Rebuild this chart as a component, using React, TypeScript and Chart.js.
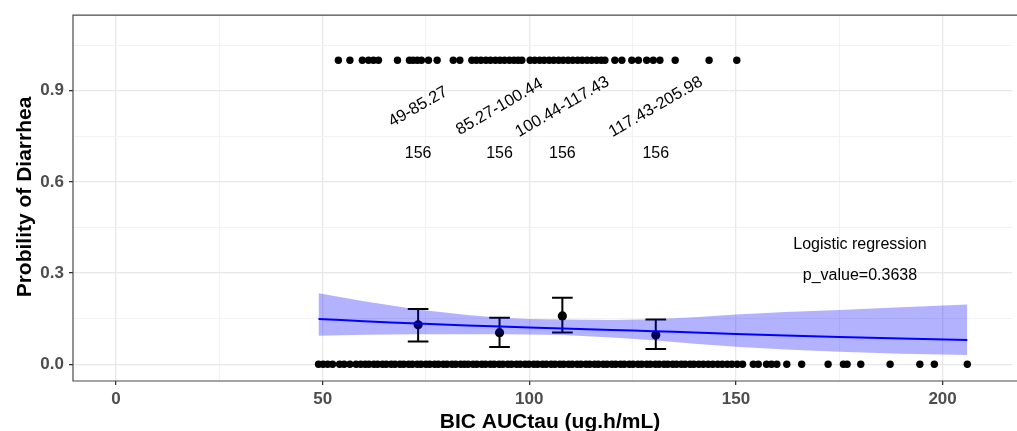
import React, { useEffect, useRef } from 'react';
import { Chart, registerables } from 'chart.js';
Chart.register(...registerables);

const FONT = "'Liberation Sans', Arial, sans-serif";

// axis ticks
const xTickValues = [0, 25, 50, 75, 100, 125, 150, 175, 200];
const xMajorTicks = [0, 50, 100, 150, 200];
const yTickValues = [0, 0.15, 0.3, 0.45, 0.6, 0.75, 0.9, 1.05];
const yMajorTicks = [0, 0.3, 0.6, 0.9];

// rug: AUC values of subjects with diarrhea (y = 1)
const rugTop = [53.8, 56.6, 59.6, 61.1, 62.3, 63.5, 68.1, 71.0, 71.9, 72.9, 73.9, 75.6, 77.7, 81.6, 83.2,
  86.1, 87.2, 88.3, 89.5, 90.6, 91.8, 92.9, 94.0, 95.2, 96.3, 97.3, 98.2,
  100.2, 101.3, 102.5, 103.6, 104.8, 105.9, 107.1, 108.2, 109.4, 110.5, 111.7, 112.8, 114.0, 115.1, 116.3, 117.4, 118.3,
  120.7, 122.4, 124.8, 126.4, 128.4, 130.0, 131.6, 135.3, 143.5, 150.2];

// rug: AUC values of subjects without diarrhea (y = 0)
const rugBottom = [49, 50.1, 51.2, 52.4, 54.1, 55.2, 56.6, 58.1, 59.2, 60.3, 61.2, 62.4, 63.3, 64.5, 65.4, 66.6,
  67.5, 68.7, 69.6, 70.8, 71.7, 72.9, 73.8, 75.0, 75.9, 77.1, 78.0, 79.2, 80.1, 81.3, 82.2, 83.4, 84.3, 85.2,
  86.4, 87.3, 88.5, 89.4, 90.6, 91.5, 92.7, 93.6, 94.8, 95.7, 96.9, 97.8, 99.0, 99.9, 101.1, 102.0, 103.2,
  104.1, 105.3, 106.2, 107.4, 108.3, 109.5, 110.4, 111.6, 112.5, 113.7, 114.6, 115.8, 116.7, 117.9, 118.8,
  120.0, 120.9, 122.1, 123.0, 124.2, 125.1, 126.3, 127.2, 128.4, 129.3, 130.5, 131.4, 132.6, 133.5, 134.7,
  135.6, 136.8, 137.7, 138.9, 139.8, 141.0, 142.1, 143.3, 144.4, 145.6, 146.7, 147.9, 149.0, 150.3, 151.6,
  154.2, 155.4, 157.4, 158.6, 159.9, 162.3, 165.9, 172.3, 176.0, 176.9, 180.2, 187.3, 194.5, 198.0, 205.98];

// quartile bins
const binLabels = ['49-85.27', '85.27-100.44', '100.44-117.43', '117.43-205.98'];
const binCounts = ['156', '156', '156', '156'];
const binX = [73.1, 92.8, 108.0, 130.6];
const binMean = [0.130, 0.104, 0.159, 0.096];
const binLow = [0.075, 0.057, 0.105, 0.050];
const binHigh = [0.182, 0.153, 0.219, 0.147];

// logistic fit with confidence band
const fitX = [49, 60, 73, 85, 93, 100, 108, 120, 130, 140, 150, 162, 175, 190, 205.98];
const fitY = [0.149, 0.142, 0.134, 0.128, 0.124, 0.121, 0.118, 0.113, 0.109, 0.105, 0.100, 0.095, 0.090, 0.085, 0.080];
const fitUpper = [0.234, 0.207, 0.180, 0.162, 0.153, 0.149, 0.147, 0.146, 0.148, 0.155, 0.164, 0.172, 0.179, 0.188, 0.197];
const fitLower = [0.094, 0.097, 0.099, 0.099, 0.099, 0.098, 0.096, 0.088, 0.079, 0.068, 0.058, 0.049, 0.041, 0.035, 0.031];

const annotX = 180;
const annotLines = [{ text: 'Logistic regression', y: 0.4 }, { text: 'p_value=0.3638', y: 0.3 }];
const binLabelY = 0.85;
const binCountY = 0.7;

const xTitle = 'BIC AUCtau (ug.h/mL)';
const yTitle = 'Probility of Diarrhea';

// panel placement (pixel anchors of the data origin and pixels per unit)
const X_ORIGIN_PX = 116;
const X_PX_PER_UNIT = 4.133;
const Y_ORIGIN_PX = 364.3;
const Y_PX_PER_UNIT = 304;

export default function App() {
  const ref = useRef<HTMLCanvasElement | null>(null);

  useEffect(() => {
    const canvas = ref.current;
    if (!canvas) return;

    const overlay = {
      id: 'overlay',
      afterLayout(chart: any) {
        const ca = chart.chartArea;
        const xs = chart.scales.x;
        const ys = chart.scales.y;
        xs.min = (ca.left - X_ORIGIN_PX) / X_PX_PER_UNIT;
        xs.max = (ca.right - X_ORIGIN_PX) / X_PX_PER_UNIT;
        xs.configure();
        ys.min = (Y_ORIGIN_PX - ca.bottom) / Y_PX_PER_UNIT;
        ys.max = (Y_ORIGIN_PX - ca.top) / Y_PX_PER_UNIT;
        ys.configure();
      },
      beforeDatasetsDraw(chart: any) {
        const { ctx } = chart;
        const xs = chart.scales.x;
        const ys = chart.scales.y;
        ctx.save();
        ctx.strokeStyle = '#000';
        ctx.lineWidth = 2;
        binX.forEach((bx, i) => {
          const px = xs.getPixelForValue(bx);
          const x0 = xs.getPixelForValue(bx - 2.5);
          const x1 = xs.getPixelForValue(bx + 2.5);
          const yl = ys.getPixelForValue(binLow[i]);
          const yh = ys.getPixelForValue(binHigh[i]);
          ctx.beginPath();
          ctx.moveTo(px, yl); ctx.lineTo(px, yh);
          ctx.moveTo(x0, yl); ctx.lineTo(x1, yl);
          ctx.moveTo(x0, yh); ctx.lineTo(x1, yh);
          ctx.stroke();
        });
        ctx.restore();
      },
      afterDatasetsDraw(chart: any) {
        const { ctx, chartArea } = chart;
        const xs = chart.scales.x;
        const ys = chart.scales.y;
        ctx.save();
        ctx.fillStyle = '#000';
        ctx.font = `16px ${FONT}`;
        ctx.textAlign = 'center';
        ctx.textBaseline = 'middle';
        binX.forEach((bx, i) => {
          const px = xs.getPixelForValue(bx);
          ctx.fillText(binCounts[i], px, ys.getPixelForValue(binCountY) + 2);
          ctx.save();
          ctx.translate(px, ys.getPixelForValue(binLabelY) + 1);
          ctx.rotate(-Math.PI / 6);
          ctx.font = `16.5px ${FONT}`;
          ctx.fillText(binLabels[i], 0, 0);
          ctx.restore();
        });
        annotLines.forEach((a) => {
          ctx.fillText(a.text, xs.getPixelForValue(annotX), ys.getPixelForValue(a.y) + 2);
        });
        // panel border (left, top, bottom; right edge lies outside the picture)
        const w = chart.width + 5;
        ctx.strokeStyle = '#4a4a4a';
        ctx.lineWidth = 1.2;
        ctx.beginPath();
        ctx.moveTo(w, chartArea.top);
        ctx.lineTo(chartArea.left, chartArea.top);
        ctx.lineTo(chartArea.left, chartArea.bottom);
        ctx.lineTo(w, chartArea.bottom);
        ctx.stroke();
        ctx.restore();
      },
      afterDraw(chart: any) {
        const { ctx } = chart;
        ctx.save();
        ctx.fillStyle = '#000';
        ctx.font = `bold 21px ${FONT}`;
        ctx.textAlign = 'center';
        ctx.textBaseline = 'alphabetic';
        ctx.fillText(xTitle, 550, 428);
        ctx.translate(31, 197);
        ctx.rotate(-Math.PI / 2);
        ctx.fillText(yTitle, 0, 0);
        ctx.restore();
      },
    };

    const isMajorX = (v: number) => xMajorTicks.some((m) => Math.abs(m - v) < 1e-6);
    const isMajorY = (v: number) => yMajorTicks.some((m) => Math.abs(m - v) < 1e-6);

    const chart = new Chart(canvas, {
      type: 'scatter',
      data: {
        datasets: [
          {
            type: 'line',
            label: 'lower',
            data: fitX.map((x, i) => ({ x, y: fitLower[i] })),
            borderWidth: 0,
            borderColor: 'rgba(0,0,0,0)',
            pointRadius: 0,
            fill: false,
            order: 2,
          } as any,
          {
            type: 'line',
            label: 'upper',
            data: fitX.map((x, i) => ({ x, y: fitUpper[i] })),
            borderWidth: 0,
            borderColor: 'rgba(0,0,0,0)',
            backgroundColor: 'rgba(0,0,255,0.3)',
            pointRadius: 0,
            fill: '-1',
            order: 1,
          } as any,
          {
            type: 'line',
            label: 'fit',
            data: fitX.map((x, i) => ({ x, y: fitY[i] })),
            borderColor: '#0000FF',
            borderWidth: 2,
            pointRadius: 0,
            fill: false,
            tension: 0.3,
            order: 0,
          } as any,
          {
            label: 'means',
            data: binX.map((x, i) => ({ x, y: binMean[i] })),
            pointRadius: 4.6,
            pointBackgroundColor: '#000',
            pointBorderWidth: 0,
            order: 3,
          },
          {
            label: 'rug1',
            data: rugTop.map((x) => ({ x, y: 1 })),
            pointRadius: 3.7,
            pointBackgroundColor: '#000',
            pointBorderWidth: 0,
            order: 4,
          },
          {
            label: 'rug0',
            data: rugBottom.map((x) => ({ x, y: 0 })),
            pointRadius: 3.7,
            pointBackgroundColor: '#000',
            pointBorderWidth: 0,
            order: 4,
          },
        ],
      },
      options: {
        responsive: false,
        animation: false,
        devicePixelRatio: 1,
        layout: { padding: { top: 14, left: 0, right: 0, bottom: 0 } },
        plugins: { legend: { display: false }, tooltip: { enabled: false } },
        scales: {
          x: {
            type: 'linear',
            min: -10.33,
            max: 218.0,
            afterFit: (s: any) => { s.height = 50; },
            afterBuildTicks: (s: any) => { s.ticks = xTickValues.map((v) => ({ value: v })); },
            border: { display: false },
            grid: {
              color: (c: any) => (isMajorX(c.tick?.value) ? '#E8E8E8' : '#F0F0F0'),
              lineWidth: (c: any) => (isMajorX(c.tick?.value) ? 1.3 : 0.9),
              tickColor: (c: any) => (isMajorX(c.tick?.value) ? '#333333' : 'rgba(0,0,0,0)'),
              tickLength: 4,
              drawTicks: true,
            },
            ticks: {
              autoSkip: false,
              maxRotation: 0,
              padding: 4,
              color: '#4D4D4D',
              font: { family: FONT, size: 17, weight: 'bold' },
              callback: (v: any) => (isMajorX(Number(v)) ? String(v) : ''),
            },
          },
          y: {
            type: 'linear',
            min: -0.055,
            max: 1.152,
            afterFit: (s: any) => { s.width = 73; },
            afterBuildTicks: (s: any) => { s.ticks = yTickValues.map((v) => ({ value: v })); },
            border: { display: false },
            grid: {
              color: (c: any) => (isMajorY(c.tick?.value) ? '#E8E8E8' : '#F0F0F0'),
              lineWidth: (c: any) => (isMajorY(c.tick?.value) ? 1.3 : 0.9),
              tickColor: (c: any) => (isMajorY(c.tick?.value) ? '#333333' : 'rgba(0,0,0,0)'),
              tickLength: 4,
              drawTicks: true,
            },
            ticks: {
              autoSkip: false,
              padding: 5,
              color: '#4D4D4D',
              font: { family: FONT, size: 17, weight: 'bold' },
              callback: (v: any) => (isMajorY(Number(v)) ? Number(v).toFixed(1) : ''),
            },
          },
        },
      },
      plugins: [overlay],
    } as any);

    return () => chart.destroy();
  }, []);

  return (
    <div style={{ position: 'absolute', left: 0, top: 0, width: 1017, height: 431, background: '#fff' }}>
      <canvas ref={ref} width={1017} height={431} style={{ display: 'block' }} />
    </div>
  );
}
